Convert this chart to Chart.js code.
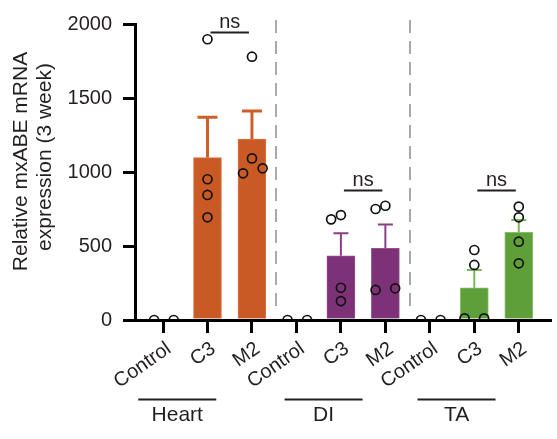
<!DOCTYPE html>
<html>
<head>
<meta charset="utf-8">
<script src="https://cdn.jsdelivr.net/npm/chart.js@4.4.0/dist/chart.umd.min.js"></script>
<style>
  html, body { margin: 0; padding: 0; background: #fff; }
  #wrap { width: 557px; height: 439px; }
</style>
</head>
<body>
<div id="wrap"><canvas id="chart"></canvas></div>
<script>
// Категории и группы тканей
const categories = ['Control', 'C3', 'M2', 'Control', 'C3', 'M2', 'Control', 'C3', 'M2'];
const tissues = ['Heart', 'DI', 'TA'];

// Средние значения и SEM
const meanValues = [0, 1097, 1222, 0, 434, 485, 0, 217, 593];
const semValues = [0, 273, 190, 0, 152, 161, 0, 121, 83];

// Отдельные животные по каждой категории
const animalValues = [
    [0, 0],
    [1897, 951, 845, 694],
    [1779, 1092, 991, 1025],
    [0, 0],
    [680, 709, 218, 128],
    [750, 772, 203, 214],
    [0, 0],
    [473, 372, 11, 11],
    [766, 694, 529, 383]
];

// Сравнения: пары категорий, уровень линии, подпись
const comparePairs = [[1, 2], [4, 5], [7, 8]];
const compareLevels = [1948, 878, 878];
const compareLabels = ['ns', 'ns', 'ns'];

const yTicks = [0, 500, 1000, 1500, 2000];

// Смещения точек, чтобы не перекрывались
const jitter = [
    [-0.2, 0.24],
    [0, 0, 0, 0],
    [0, 0, -0.2, 0.24],
    [-0.2, 0.24],
    [-0.22, 0, 0, 0],
    [-0.22, 0, -0.22, 0.22],
    [-0.2, 0.24],
    [0, 0, -0.22, 0.22],
    [0, 0, 0, 0]
];

const FONT = '"Liberation Sans", Arial, sans-serif';
const TEXT = '#231f20';
const barColors = ['#c95a25', '#c95a25', '#c95a25', '#7d3278', '#7d3278', '#7d3278', '#5e9f3a', '#5e9f3a', '#5e9f3a'];
const barEdges = ['#d9774a', '#d9774a', '#d9774a', '#944d8f', '#944d8f', '#944d8f', '#86bd68', '#86bd68', '#86bd68'];
const errColors = ['#cf5f2a', '#cf5f2a', '#cf5f2a', '#8a3f85', '#8a3f85', '#8a3f85', '#7db55d', '#7db55d', '#7db55d'];
const capWidths = [20, 20, 20, 15, 15, 15, 15, 15, 15];

const points = [];
animalValues.forEach((vals, i) => {
    vals.forEach((v, k) => points.push({ x: i + jitter[i][k], y: v }));
});

const extras = {
    id: 'extras',
    beforeDatasetsDraw(chart) {
        const { ctx, scales: { x, y }, chartArea } = chart;
        ctx.save();
        // пунктирные разделители между тканями
        ctx.strokeStyle = '#a9a9a9';
        ctx.lineWidth = 2;
        ctx.setLineDash([13, 8]);
        [2.5, 5.5].forEach(v => {
            const px = Math.round(x.getPixelForValue(v)) + 2;
            ctx.beginPath();
            ctx.moveTo(px, chartArea.top - 4);
            ctx.lineTo(px, chartArea.bottom - 7);
            ctx.stroke();
        });
        ctx.setLineDash([]);
        // планки погрешностей (только вверх)
        meanValues.forEach((m, i) => {
            if (!semValues[i]) return;
            const px = x.getPixelForValue(i);
            const y0 = y.getPixelForValue(m);
            const y1 = y.getPixelForValue(m + semValues[i]);
            ctx.strokeStyle = errColors[i];
            ctx.lineWidth = i < 3 ? 3 : 2;
            ctx.beginPath();
            ctx.moveTo(px, y0);
            ctx.lineTo(px, y1);
            ctx.moveTo(px - capWidths[i] / 2, y1);
            ctx.lineTo(px + capWidths[i] / 2, y1);
            ctx.stroke();
        });
        ctx.restore();
    },
    afterDraw(chart) {
        const { ctx, scales: { x, y } } = chart;
        ctx.save();
        ctx.fillStyle = TEXT;
        ctx.strokeStyle = TEXT;
        // ns над парами
        ctx.font = '20px ' + FONT;
        ctx.textAlign = 'center';
        ctx.textBaseline = 'alphabetic';
        comparePairs.forEach(([a, b], k) => {
            const x0 = x.getPixelForValue(a) + 3;
            const x1 = x.getPixelForValue(b) - 3;
            const py = Math.round(y.getPixelForValue(compareLevels[k])) + 0.5;
            ctx.lineWidth = 2;
            ctx.beginPath();
            ctx.moveTo(x0, py);
            ctx.lineTo(x1, py);
            ctx.stroke();
            ctx.fillText(compareLabels[k], (x0 + x1) / 2, py - 5);
        });
        // подписи тканей под осью
        const centers = [0.32, 3.61, 6.6];
        ctx.font = '21px ' + FONT;
        tissues.forEach((t, k) => {
            const cx = x.getPixelForValue(centers[k]);
            ctx.lineWidth = 2;
            ctx.beginPath();
            ctx.moveTo(cx - 39, 399.5);
            ctx.lineTo(cx + 39, 399.5);
            ctx.stroke();
            ctx.fillText(t, cx, 421);
        });
        // подпись оси Y
        ctx.rotate(-Math.PI / 2);
        ctx.textBaseline = 'middle';
        ctx.fillText('Relative mxABE mRNA', -161.5, 21);
        ctx.fillText('expression (3 week)', -157, 45);
        ctx.restore();
    }
};

const ctx = document.getElementById('chart').getContext('2d');
new Chart(ctx, {
    type: 'bar',
    data: {
        datasets: [
            {
                type: 'scatter',
                data: points,
                pointRadius: 4.5,
                pointHoverRadius: 4.5,
                borderColor: '#111',
                backgroundColor: 'rgba(0,0,0,0)',
                borderWidth: 1.7,
                order: 0
            },
            {
                type: 'bar',
                data: meanValues.map((v, i) => ({ x: i, y: v })),
                backgroundColor: barColors,
                borderColor: barEdges,
                borderWidth: 1,
                barThickness: 28,
                order: 1
            }
        ]
    },
    options: {
        responsive: true,
        maintainAspectRatio: false,
        animation: false,
        layout: { padding: { top: 24, right: 5, left: 0, bottom: 0 } },
        plugins: {
            legend: { display: false },
            tooltip: { enabled: false }
        },
        scales: {
            x: {
                type: 'linear',
                offset: false,
                min: -0.63,
                max: 8.72,
                afterBuildTicks: s => { s.ticks = categories.map((c, i) => ({ value: i })); },
                afterFit: s => { s.height = 119; },
                ticks: {
                    autoSkip: false,
                    minRotation: 35,
                    maxRotation: 35,
                    padding: 4,
                    labelOffset: 6,
                    color: TEXT,
                    font: { family: FONT, size: 20 },
                    callback: v => categories[v]
                },
                grid: { offset: false, drawOnChartArea: false, drawTicks: true, tickLength: 13, color: '#000', lineWidth: 3 },
                border: { display: true, color: '#000', width: 3 }
            },
            y: {
                min: 0,
                max: 2000,
                afterBuildTicks: s => { s.ticks = yTicks.map(v => ({ value: v })); },
                afterFit: s => { s.width = 135; },
                ticks: {
                    padding: 11,
                    color: TEXT,
                    font: { family: FONT, size: 20 },
                    callback: v => String(v)
                },
                grid: { drawOnChartArea: false, drawTicks: true, tickLength: 12, color: '#000', lineWidth: 3 },
                border: { display: true, color: '#000', width: 3 }
            }
        }
    },
    plugins: [extras]
});
</script>
</body>
</html>
